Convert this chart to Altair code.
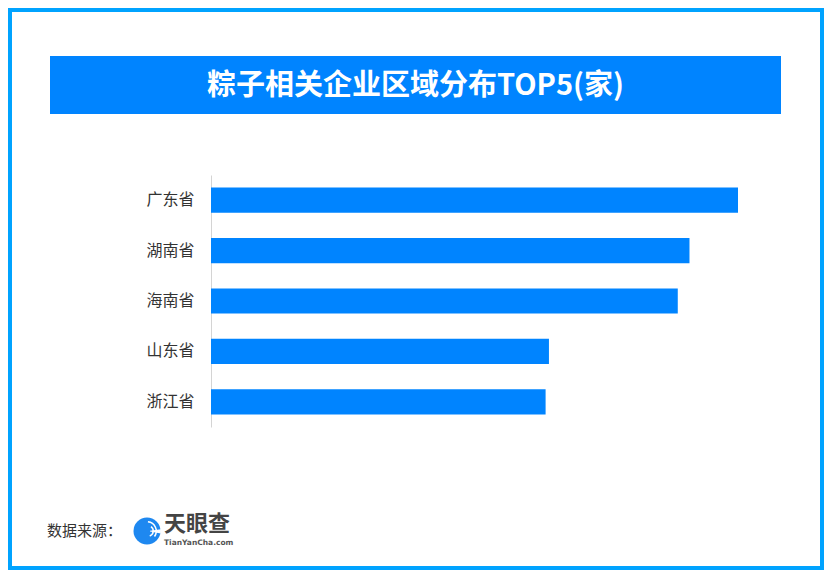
import altair as alt
import pandas as pd

# ---- data ----
provinces = ["广东省", "湖南省", "海南省", "山东省", "浙江省"]
counts = [315, 286, 279, 202, 200]

title_text = "粽子相关企业区域分布TOP5(家)"
source_label = "数据来源："
brand_name = "天眼查"
brand_url = "TianYanCha.com"

FONT = "Noto Sans CJK SC"
BLUE = "#0084FF"
BORDER = "#00A3FF"

df = pd.DataFrame({"province": provinces, "count": counts})
one = pd.DataFrame({"a": [0]})

bars = alt.Chart(df).mark_bar(color=BLUE).encode(
    x=alt.X("count:Q", axis=None, scale=alt.Scale(domain=[0, max(counts)], nice=False, zero=True)),
    y=alt.Y(
        "province:N",
        sort=provinces,
        title=None,
        scale=alt.Scale(paddingInner=0.5, paddingOuter=0.25),
        axis=alt.Axis(
            ticks=False,
            grid=False,
            domainColor="#d4d4d4",
            domainWidth=1,
            labelFont=FONT,
            labelFontSize=16,
            labelColor="#333333",
            labelPadding=17,
        ),
    ),
)

base = alt.Chart(one)

border = base.mark_rect(fill=None, stroke=BORDER, strokeWidth=4).encode(
    x=alt.value(-201), x2=alt.value(611), y=alt.value(-165), y2=alt.value(393)
)

banner = base.mark_rect(color=BLUE).encode(
    x=alt.value(-161), x2=alt.value(570), y=alt.value(-119), y2=alt.value(-61)
)

title = base.mark_text(
    text=title_text, font=FONT, fontSize=29, fontWeight="bold", color="white",
    align="center", baseline="middle",
).encode(x=alt.value(204.5), y=alt.value(-89))

source = base.mark_text(
    text=source_label, font=FONT, fontSize=15, color="#333333",
    align="left", baseline="middle",
).encode(x=alt.value(-164), y=alt.value(356))

LX, LY = -64, 356
logo_circle = base.mark_arc(color="#1E88F0", radius=13.5, theta=0, theta2=6.2832).encode(
    x=alt.value(LX), y=alt.value(LY)
)
logo_swirl1 = base.mark_arc(color="white", radius=10, radius2=8.5, theta=0.1, theta2=2.2).encode(
    x=alt.value(LX), y=alt.value(LY)
)
logo_swirl2 = base.mark_arc(color="white", radius=6, radius2=4.5, theta=0.6, theta2=2.8).encode(
    x=alt.value(LX + 1), y=alt.value(LY)
)
logo_notch = base.mark_arc(color="white", radius=14, radius2=3, theta=1.45, theta2=1.75).encode(
    x=alt.value(LX), y=alt.value(LY)
)

brand = base.mark_text(
    text=brand_name, font=FONT, fontSize=22, fontWeight="bold", color="#444444",
    align="left", baseline="middle",
).encode(x=alt.value(-47), y=alt.value(349))

url = base.mark_text(
    text=brand_url, font="DejaVu Sans", fontSize=7.5, fontWeight="bold", color="#555555",
    align="left", baseline="middle",
).encode(x=alt.value(-47), y=alt.value(367.5))

chart = alt.layer(
    border, banner, title, bars, source,
    logo_circle, logo_swirl1, logo_swirl2, logo_notch, brand, url
).properties(
    width=527,
    height=252,
    autosize=alt.AutoSizeParams(type="none"),
    padding={"left": 203, "top": 167, "right": 86, "bottom": 143},
    background="white",
).configure_view(stroke=None)

chart.save("out.html", embed_options={"renderer": "svg", "actions": False})
